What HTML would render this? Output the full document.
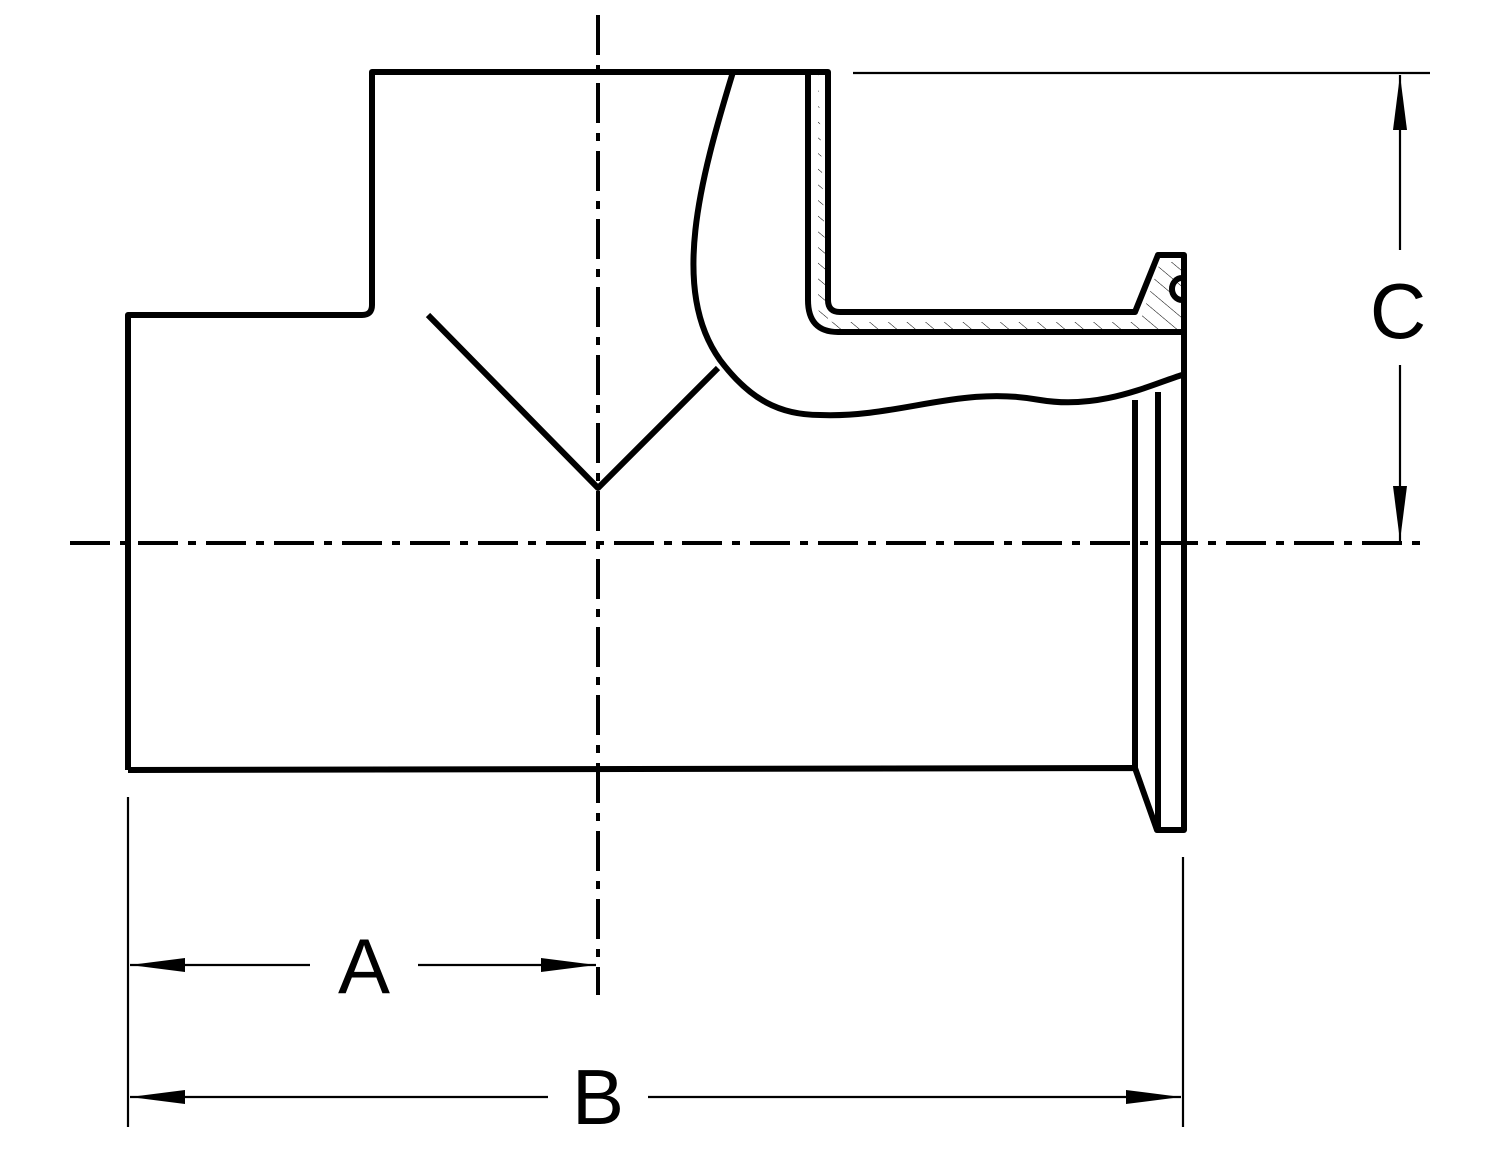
<!DOCTYPE html><html><head><style>body{margin:0;background:#fff}</style></head><body>
<svg width="1500" height="1159" viewBox="0 0 1500 1159" xmlns="http://www.w3.org/2000/svg">
<defs><pattern id="h" width="12" height="12" patternUnits="userSpaceOnUse" patternTransform="rotate(-50)"><line x1="0" y1="0" x2="0" y2="12" stroke="#000" stroke-width="1"/></pattern></defs>
<g fill="none" stroke="#000" stroke-width="6" stroke-linejoin="round">
<path d="M818,72 L818,305 Q818,322 835,322 L1140,322 L1160,262 L1182,262 L1182,330 L835,330 Q828,330 828,320 Z" fill="url(#h)" stroke="none"/>
<path d="M128,770 L128,315 L362,315 Q372,315 372,305 L372,72 L828,72 L828,300 Q828,312 840,312 L1135,312 L1158,255 L1184,255 L1184,830 L1157,830 L1135,768 L128,770"/>
<path d="M808,72 L808,300 Q808,332 838,332 L1182,332"/>
<path d="M733,72 C700,180 670,290 720,360 C750,400 780,415 820,415 C900,418 960,385 1040,400 C1100,410 1150,385 1182,375"/>
<path d="M1135,400 L1135,768 M1158,392 L1158,830"/>
<path d="M428,315 L598,488 L718,368"/>
<path d="M1182,278 A10,11 0 1 0 1182,300"/>
</g>
<g stroke="#000" stroke-width="4" fill="none">
<line x1="598" y1="15" x2="598" y2="995" stroke-dasharray="40,10,8,10"/>
<line x1="70" y1="543" x2="1430" y2="543" stroke-dasharray="40,10,8,10"/>
</g>
<g stroke="#000" stroke-width="2.2">
<line x1="853" y1="73" x2="1430" y2="73"/>
<line x1="1400" y1="75" x2="1400" y2="250"/><line x1="1400" y1="365" x2="1400" y2="541"/>
<line x1="128" y1="797" x2="128" y2="1127"/><line x1="1183" y1="857" x2="1183" y2="1127"/>
<line x1="130" y1="965" x2="310" y2="965"/><line x1="418" y1="965" x2="596" y2="965"/>
<line x1="130" y1="1097" x2="548" y2="1097"/><line x1="648" y1="1097" x2="1181" y2="1097"/>
</g>
<g fill="#000">
<polygon points="1400,75 1393,130 1407,130"/><polygon points="1400,541 1393,486 1407,486"/>
<polygon points="130,965 185,958 185,972"/><polygon points="596,965 541,958 541,972"/>
<polygon points="130,1097 185,1090 185,1104"/><polygon points="1181,1097 1126,1090 1126,1104"/>
</g>
<g font-family="Liberation Sans, sans-serif" font-size="78" text-anchor="middle">
<text x="1398" y="338">C</text><text x="364" y="993">A</text><text x="598" y="1124">B</text>
</g>
</svg></body></html>
